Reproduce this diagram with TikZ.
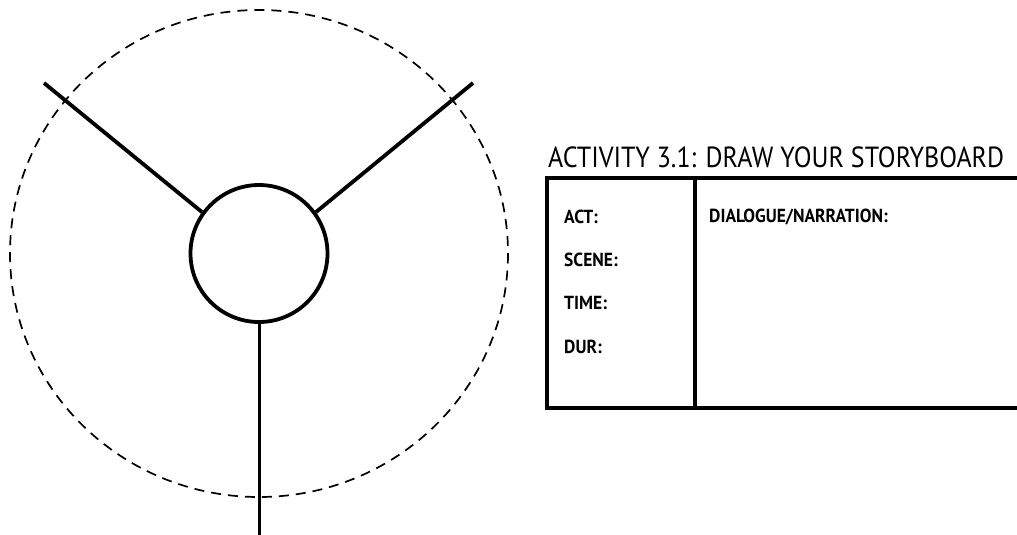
\documentclass[tikz,border=0pt]{standalone}
\usepackage{fontspec}
\setmainfont{PT Sans}
\begin{document}
\begin{tikzpicture}[x=1pt,y=-1pt,
  thick line/.style={line width=3.8pt},
  box line/.style={line width=4.3pt},
  dashring/.style={line width=1.7pt, dash pattern=on 10pt off 7pt},
  field/.style={anchor=west, inner sep=0pt, font=\fontsize{17.5}{18}\selectfont\bfseries},
  title/.style={anchor=west, inner sep=0pt, font=\fontsize{26}{30}\selectfont}]
\useasboundingbox (0,0) rectangle (1017,535);
\fill[white] (0,0) rectangle (1017,535);
% dashed outer ring
\draw[dashring] (259,253.5) ellipse [x radius=249, y radius=243.5];
% hub
\node[draw, thick line, circle, minimum size=137pt, inner sep=0pt] (hub) at (259,253.5) {};
\coordinate (l1) at (44,83);
\coordinate (r1) at (473,83);
\coordinate (b1) at (259,537);
\draw[thick line] (l1) -- (hub.144);
\draw[thick line] (r1) -- (hub.36);
\draw[line width=3pt] (hub.south) -- (b1);
% title
\node[title] (ttl) at (548,157) {\scalebox{1}[1.12]{ACTIVITY 3.1: DRAW YOUR STORYBOARD}};
% storyboard box
\coordinate (tr) at (1019,178);
\coordinate (tl) at (547,178);
\coordinate (bl) at (547,408);
\coordinate (br) at (1019,408);
\draw[box line] (tr) -- (tl) -- (bl) -- (br);
\coordinate (dt) at (695,178);
\coordinate (db) at (695,408);
\draw[box line] (dt) -- (db);
\node[field] (act) at (564,217) {\scalebox{1}[1.08]{ACT:}};
\node[field] (scene) at (564,260) {\scalebox{1}[1.08]{SCENE:}};
\node[field] (time) at (564,303) {\scalebox{1}[1.08]{TIME:}};
\node[field] (dur) at (564,347) {\scalebox{1}[1.08]{DUR:}};
\node[field] (dia) at (709,217) {\scalebox{1}[1.08]{DIALOGUE/NARRATION:}};
\end{tikzpicture}
\end{document}
